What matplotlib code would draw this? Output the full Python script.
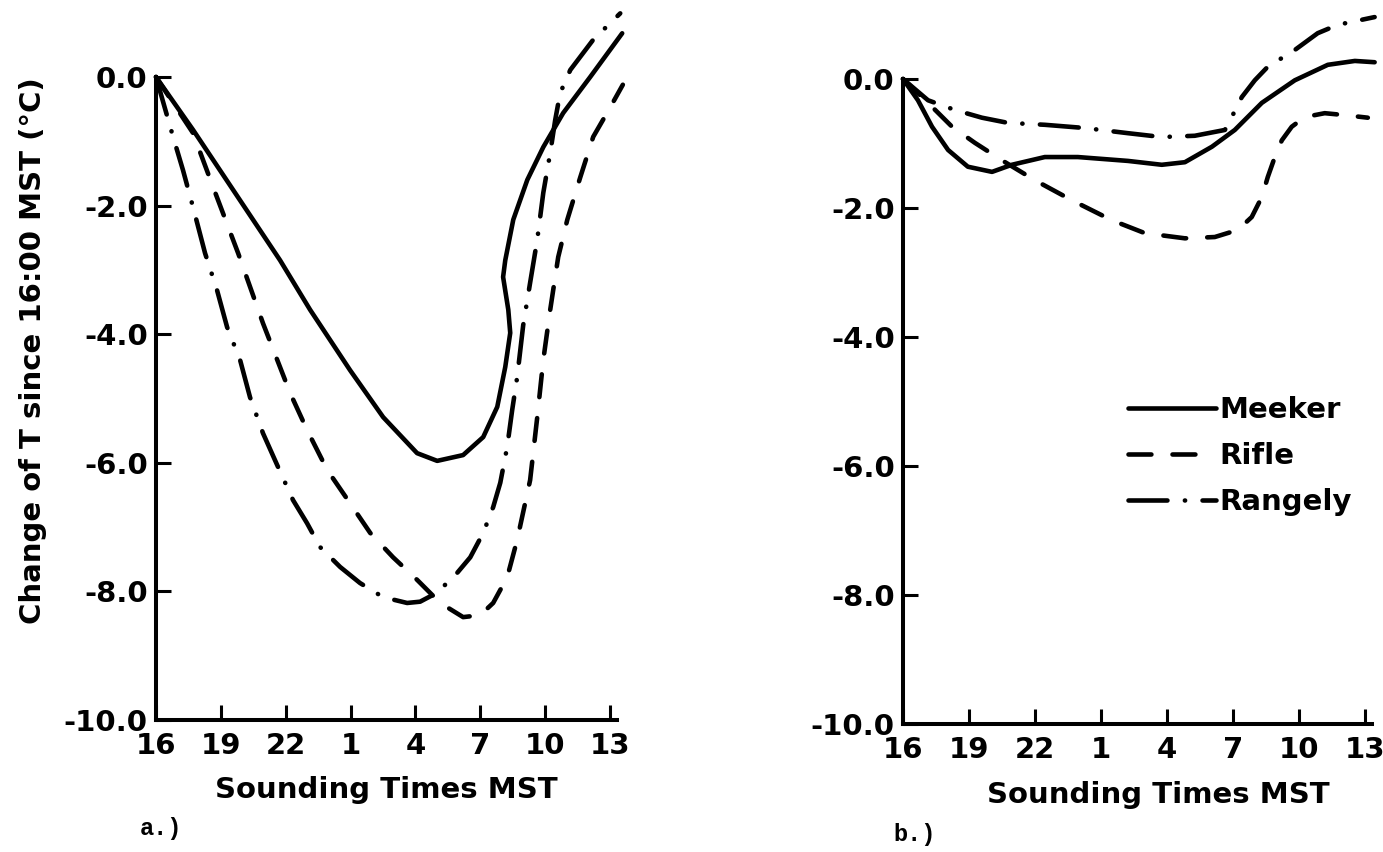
import matplotlib
matplotlib.use("Agg")
import matplotlib.pyplot as plt

# Hours elapsed after the 16:00 MST sounding, and tick labels (clock hour, MST)
tick_hours = [0, 3, 6, 9, 12, 15, 18, 21]
tick_labels = ["16", "19", "22", "1", "4", "7", "10", "13"]
y_ticks = [0.0, -2.0, -4.0, -6.0, -8.0, -10.0]
y_tick_labels = ["0.0", "-2.0", "-4.0", "-6.0", "-8.0", "-10.0"]

# ---- Panel a: change of temperature since 16:00 MST (deg C) ----
meeker_a_h = [0.0, 1.71, 5.74, 7.13, 8.98, 10.51, 12.08, 13.01, 14.21, 15.14,
              15.79, 16.16, 16.39, 16.30, 16.06, 16.16, 16.53, 17.18, 17.92,
              18.84, 20.09, 21.57]
meeker_a_dT = [0.0, -0.82, -2.85, -3.62, -4.56, -5.29, -5.85, -5.97, -5.88, -5.60,
               -5.13, -4.51, -3.98, -3.62, -3.11, -2.85, -2.22, -1.60, -1.09,
               -0.56, 0.0, 0.68]

rifle_a_h = [0.0, 1.71, 2.64, 3.80, 4.95, 6.20, 6.99, 7.92, 8.98, 9.91, 10.97,
             12.08, 13.15, 14.21, 15.0, 15.6, 16.25, 16.71, 17.31, 17.64, 17.92,
             18.24, 18.61, 19.03, 19.63, 20.23, 21.02, 21.6]
rifle_a_dT = [0.0, -0.87, -1.71, -2.74, -3.83, -4.91, -5.49, -6.11, -6.63, -7.09,
              -7.47, -7.82, -8.18, -8.40, -8.37, -8.18, -7.78, -7.20, -6.27,
              -5.29, -4.40, -3.62, -2.80, -2.22, -1.56, -0.93, -0.47, -0.12]

rangely_a_h = [0.0, 0.79, 1.25, 1.71, 2.27, 2.82, 3.29, 3.89, 4.35, 4.95, 5.60,
               6.34, 6.99, 7.59, 8.52, 9.44, 10.51, 11.62, 12.22, 13.01, 13.94,
               14.54, 15.14, 15.60, 15.93, 16.25, 16.48, 16.71, 16.99, 17.31,
               17.64, 17.92, 18.24, 18.47, 18.70, 19.17, 20.23, 21.48]
rangely_a_dT = [0.0, -0.93, -1.45, -2.02, -2.74, -3.31, -3.89, -4.40, -4.98,
                -5.54, -6.03, -6.58, -6.94, -7.31, -7.62, -7.87, -8.09, -8.18,
                -8.16, -8.02, -7.71, -7.47, -7.09, -6.69, -6.31, -5.75, -5.18,
                -4.67, -3.86, -3.20, -2.53, -1.80, -1.18, -0.67, -0.25, 0.11,
                0.58, 0.99]

# ---- Panel b ----
meeker_b_h = [0.0, 0.68, 1.32, 2.05, 2.95, 4.05, 4.95, 6.45, 7.95, 10.23, 11.77,
              12.82, 14.05, 15.09, 16.32, 17.82, 19.32, 20.55, 21.45]
meeker_b_dT = [0.0, -0.33, -0.74, -1.10, -1.36, -1.44, -1.33, -1.21, -1.21, -1.27,
               -1.33, -1.29, -1.05, -0.79, -0.37, -0.02, 0.22, 0.28, 0.26]

rifle_b_h = [0.0, 1.14, 2.23, 3.27, 4.5, 6.0, 7.68, 9.5, 11.0, 12.82, 14.18,
             15.23, 15.86, 16.32, 16.59, 16.91, 17.23, 17.68, 18.27, 19.18,
             20.09, 21.14]
rifle_b_dT = [0.0, -0.37, -0.74, -0.99, -1.26, -1.57, -1.88, -2.19, -2.39, -2.47,
              -2.45, -2.34, -2.14, -1.83, -1.52, -1.21, -0.95, -0.74, -0.59,
              -0.53, -0.56, -0.60]

rangely_b_h = [0.0, 1.14, 2.36, 3.59, 4.77, 6.45, 8.27, 10.23, 11.77, 13.27,
               14.64, 14.95, 15.41, 16.0, 16.59, 17.82, 18.86, 19.77, 21.45]
rangely_b_dT = [0.0, -0.33, -0.48, -0.60, -0.68, -0.71, -0.76, -0.84, -0.90,
                -0.88, -0.79, -0.59, -0.28, -0.02, 0.19, 0.45, 0.71, 0.84, 0.96]

stations = ["Meeker", "Rifle", "Rangely"]

FONT = "DejaVu Sans"
LW = 3.3
styles = {
    "Meeker": dict(linestyle="-"),
    "Rifle": dict(linestyle=(0, (5.0, 4.6)), dash_capstyle="round"),
    "Rangely": dict(linestyle=(0, (8.5, 3.8, 0.05, 3.8)), dash_capstyle="round"),
}

W, H = 1383, 852
fig = plt.figure(figsize=(W / 100, H / 100), dpi=100)


def px_axes(x0, x1, y_top, y_bot):
    return fig.add_axes([x0 / W, 1 - y_bot / H, (x1 - x0) / W, (y_bot - y_top) / H])


ax_a = px_axes(156, 617, 77, 720)
ax_b = px_axes(903, 1372, 79, 724)

panel_data = {
    ax_a: [(meeker_a_h, meeker_a_dT), (rifle_a_h, rifle_a_dT), (rangely_a_h, rangely_a_dT)],
    ax_b: [(meeker_b_h, meeker_b_dT), (rifle_b_h, rifle_b_dT), (rangely_b_h, rangely_b_dT)],
}

for ax, series in panel_data.items():
    for name, (h, dT) in zip(stations, series):
        ax.plot(h, dT, color="black", lw=LW, clip_on=False, label=name,
                solid_capstyle="round", solid_joinstyle="round", **styles[name])
    ax.set_xlim(0, 21.33)
    ax.set_ylim(-10, 0)
    for side in ("top", "right"):
        ax.spines[side].set_visible(False)
    for side in ("left", "bottom"):
        ax.spines[side].set_linewidth(2.9)
    ax.set_xticks(tick_hours)
    ax.set_xticklabels(tick_labels)
    ax.set_yticks(y_ticks)
    ax.set_yticklabels(y_tick_labels)
    ax.tick_params(direction="in", length=11, width=2.2, color="black")
    ax.tick_params(axis="x", pad=9)
    ax.tick_params(axis="y", pad=6)
    for lab in ax.get_xticklabels() + ax.get_yticklabels():
        lab.set_fontfamily(FONT)
        lab.set_fontweight("bold")
        lab.set_fontsize(21)
    ax.patch.set_alpha(0)

ax_a.set_xlabel("Sounding Times MST", fontsize=21, fontweight="bold", family=FONT)
ax_a.xaxis.set_label_coords(0.499, -0.087)
ax_b.set_xlabel("Sounding Times MST", fontsize=21, fontweight="bold", family=FONT)
ax_b.xaxis.set_label_coords(0.544, -0.088)

ax_a.set_ylabel("Change of T since 16:00 MST (\u00b0C)", fontsize=21,
                fontweight="bold", family=FONT)
ax_a.yaxis.set_label_coords((47 - 156) / 461, (720 - 351) / 643)

leg = ax_b.legend(loc="upper left", bbox_to_anchor=(1128 / W, 1 - 396 / H),
                  bbox_transform=fig.transFigure, frameon=False, borderpad=0,
                  borderaxespad=0, handlelength=3.0, handletextpad=0.12,
                  labelspacing=0.62, prop=dict(family=FONT, weight="bold", size=21))

fig.text(140 / W, 1 - 829 / H, "a.)", family="Liberation Mono", fontsize=17,
         fontweight="bold", ha="left", va="center")
fig.text(893 / W, 1 - 835 / H, "b.)", family="Liberation Mono", fontsize=17,
         fontweight="bold", ha="left", va="center")

fig.savefig("out.png", dpi=100, facecolor="white")
